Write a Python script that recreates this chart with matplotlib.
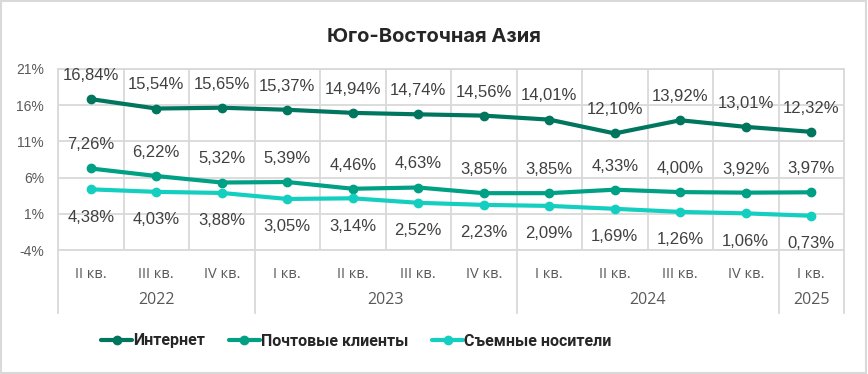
import matplotlib.pyplot as plt
import matplotlib.transforms as mtransforms
from matplotlib.patches import Rectangle
import numpy as np

# --- data ---
quarters = ["II кв.", "III кв.", "IV кв.", "I кв.", "II кв.", "III кв.", "IV кв.",
            "I кв.", "II кв.", "III кв.", "IV кв.", "I кв."]
years = ["2022", "2023", "2024", "2025"]
year_sizes = [3, 4, 4, 1]

internet = [16.84, 15.54, 15.65, 15.37, 14.94, 14.74, 14.56, 14.01, 12.10, 13.92, 13.01, 12.32]
mail = [7.26, 6.22, 5.32, 5.39, 4.46, 4.63, 3.85, 3.85, 4.33, 4.00, 3.92, 3.97]
removable = [4.38, 4.03, 3.88, 3.05, 3.14, 2.52, 2.23, 2.09, 1.69, 1.26, 1.06, 0.73]

series_names = ["Интернет", "Почтовые клиенты", "Съемные носители"]
y_ticks = [-4, 1, 6, 11, 16, 21]

# --- style ---
GRID = "#D9D9D9"
TXT = "#404040"
AXT = "#595959"
colors = ["#00765F", "#00A085", "#14CFC0"]
label_dy = [17, 17, -20]  # points: above / above / below

fig = plt.figure(figsize=(8.68, 3.74), dpi=100)
ax = fig.add_axes([58 / 868, 1 - 250 / 374, 786 / 868, 181 / 374])

x = np.arange(len(quarters))
for vals, col, name, dy in zip([internet, mail, removable], colors, series_names, label_dy):
    ax.plot(x, vals, color=col, lw=3.0, marker="o", ms=6, label=name,
            solid_capstyle="round", zorder=3)
    for xi, v in zip(x, vals):
        ax.annotate(f"{v:.2f}%".replace(".", ","), (xi, v), xytext=(0, dy),
                    textcoords="offset points", ha="center", va="center",
                    fontsize=12, color=TXT, family="Liberation Sans", zorder=4)

ax.set_xlim(-0.5, len(quarters) - 0.5)
ax.set_ylim(min(y_ticks), max(y_ticks))
ax.set_yticks(y_ticks)
ax.set_yticklabels([f"{t}%" for t in y_ticks], fontsize=10, color=AXT,
                   family="Liberation Sans")
ax.set_xticks(x)
ax.set_xticklabels(quarters, fontsize=10.5, color=AXT, family="Open Sans")
ax.tick_params(axis="x", length=0, pad=12)
ax.tick_params(axis="y", length=0, pad=10)

# gridlines: horizontal at ticks, vertical between categories
ax.set_xticks(np.arange(-0.5, len(quarters)), minor=True)
ax.tick_params(axis="x", which="minor", length=0)
ax.grid(True, axis="y", color=GRID, lw=1.3, zorder=0)
ax.grid(True, axis="x", which="minor", color=GRID, lw=1.3, zorder=0)
for s in ax.spines.values():
    s.set_color(GRID)
    s.set_linewidth(1.3)

# second level of the category axis (years)
trans = mtransforms.blended_transform_factory(ax.transData, ax.transAxes)
bounds = np.concatenate([[0], np.cumsum(year_sizes)]) - 0.5
for b in bounds:
    ax.plot([b, b], [0, -63 / 181], transform=trans, color=GRID, lw=1.3,
            clip_on=False, zorder=0)
for yr, lo, hi in zip(years, bounds[:-1], bounds[1:]):
    ax.text((lo + hi) / 2, -50 / 181, yr, transform=trans, ha="center", va="center",
            fontsize=11.5, color=AXT, family="Open Sans")

fig.text(0.5, 1 - 37 / 374, "Юго-Восточная Азия", ha="center", va="center",
         fontsize=14.5, fontweight="bold", color="#262626", family="Inter")

leg = fig.legend(loc="center left", bbox_to_anchor=(87 / 868, 1 - 341 / 374),
                 ncol=3, frameon=False, handlelength=1.9, handletextpad=0.1,
                 columnspacing=1.5, prop={"family": "Roboto", "weight": "bold", "size": 11.5})
for t in leg.get_texts():
    t.set_color("#262626")

# outer border of the chart area
fig.patches.append(Rectangle((0.001, 0.002), 0.997, 0.995, transform=fig.transFigure,
                             fill=False, edgecolor=GRID, lw=1.5))

fig.savefig("out.png", dpi=100)
